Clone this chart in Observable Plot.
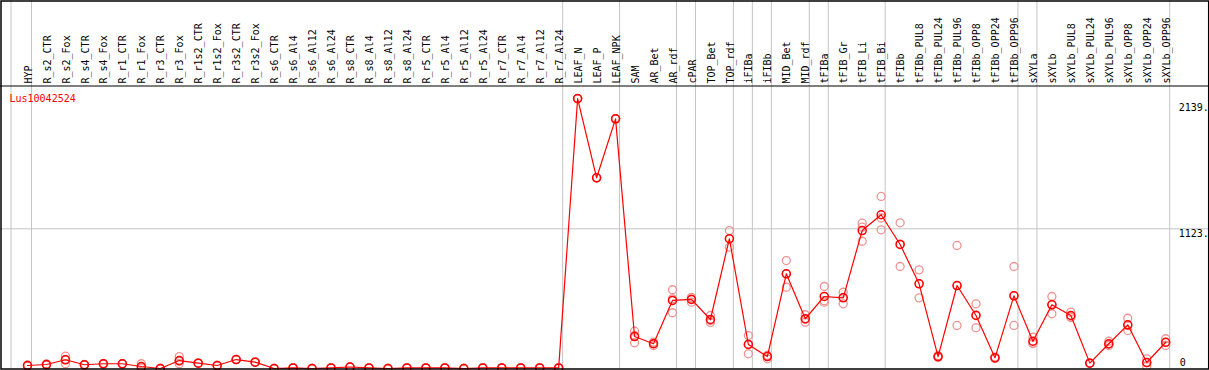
<!DOCTYPE html>
<html>
<head>
<meta charset="utf-8">
<script src="https://cdn.jsdelivr.net/npm/d3@7"></script>
<script src="https://cdn.jsdelivr.net/npm/@observablehq/plot@0.6"></script>
<style>
  html, body { margin: 0; padding: 0; background: #fff; }
  #chart svg { display: block; }
</style>
</head>
<body>
<div id="chart"></div>
<script>
const title = "Lus10042524";

const categories = [
  "HYP","R_s2_CTR","R_s2_Fox","R_s4_CTR","R_s4_Fox","R_r1_CTR","R_r1_Fox","R_r3_CTR","R_r3_Fox",
  "R_r1s2_CTR","R_r1s2_Fox","R_r3s2_CTR","R_r3s2_Fox","R_s6_CTR","R_s6_Al4","R_s6_Al12","R_s6_Al24",
  "R_s8_CTR","R_s8_Al4","R_s8_Al12","R_s8_Al24","R_r5_CTR","R_r5_Al4","R_r5_Al12","R_r5_Al24",
  "R_r7_CTR","R_r7_Al4","R_r7_Al12","R_r7_Al24","LEAF_N","LEAF_P","LEAF_NPK","SAM","AR_Bet","AR_rdf",
  "cPAR","TOP_Bet","TOP_rdf","iFIBa","iFIBb","MID_Bet","MID_rdf","tFIBa","tFIB_Gr","tFIB_Li","tFIB_Bi",
  "tFIBb","tFIBb_PUL8","tFIBb_PUL24","tFIBb_PUL96","tFIBb_OPP8","tFIBb_OPP24","tFIBb_OPP96",
  "sXYLa","sXYLb","sXYLb_PUL8","sXYLb_PUL24","sXYLb_PUL96","sXYLb_OPP8","sXYLb_OPP24","sXYLb_OPP96"
];

const means = [
  24, 32, 70, 30, 38, 38, 16, 0, 64,
  43, 24, 72, 51, 0, 5, 0, 5,
  12, 5, 0, 5, 5, 5, 0, 5,
  5, 5, 5, 5, 2170, 1533, 2007, 257, 199, 547,
  555, 394, 1043, 193, 96, 761, 400, 579, 568, 1109, 1236,
  997, 681, 96, 667, 426, 86, 584,
  219, 512, 426, 43, 199, 351, 48, 211
];

const rep1 = [
  20, 28, 99, 28, 36, 38, 38, 0, 96,
  43, 24, 72, 51, 0, 5, 0, 5,
  12, 5, 0, 5, 5, 5, 0, 5,
  5, 5, 5, 5, 2170, 1533, 2007, 300, 185, 633,
  560, 426, 1109, 265, 78, 868, 432, 659, 613, 1168, 1383,
  1171, 793, 88, 989, 520, 80, 820,
  252, 579, 453, 40, 219, 404, 78, 239
];

const rep2 = [
  28, 36, 38, 32, 40, 38, 5, 0, 38,
  43, 24, 72, 51, 0, 5, 0, 5,
  12, 5, 0, 5, 5, 5, 0, 5,
  5, 5, 5, 5, 2170, 1533, 2007, 207, 211, 448,
  533, 370, 975, 118, 105, 654, 372, 533, 520, 1023, 1115,
  820, 568, 105, 346, 327, 92, 346,
  201, 440, 410, 46, 185, 305, 18, 185
];

const rep3 = [
  24, 32, 73, 30, 38, 38, 5, 0, 58,
  43, 24, 72, 51, 0, 5, 0, 5,
  12, 5, 0, 5, 5, 5, 0, 5,
  5, 5, 5, 5, 2170, 1533, 2007, 264, 201, 560,
  572, 386, 1045, 196, 105, 761, 396, 545, 571, 1136, 1210,
  1000, 682, 95, 666, 431, 86, 586,
  204, 517, 415, 43, 193, 344, 48, 209
];

const yTickValues = [0, 1123, 2139];
const yTickLabels = ["0", "1123.", "2139."];

// group separators are drawn just after these columns
const groupEnds = ["HYP","R_r7_Al24","LEAF_NPK","AR_rdf","cPAR","TOP_rdf","iFIBa","iFIBb",
  "MID_rdf","tFIBa","tFIB_Bi","tFIBb_OPP96","sXYLa","sXYLb_OPP96"];

const meanData = categories.map((c, i) => ({cat: c, v: means[i]}));
const repData = [];
[rep1, rep2, rep3].forEach(r => categories.forEach((c, i) => repData.push({cat: c, v: r[i]})));
const tickData = yTickValues.map((v, i) => ({v, label: yTickLabels[i]}));

const FONT = "DejaVu Sans Mono";
const ML = 17.5, MR = 34.3, MT = 85.5, MB = 2;
const yTop = 2271;

const chart = Plot.plot({
  width: 1209,
  height: 370,
  marginLeft: ML,
  marginRight: MR,
  marginTop: MT,
  marginBottom: MB,
  style: {fontFamily: FONT, fontSize: "10px", background: "#fff", overflow: "hidden"},
  x: {type: "point", domain: categories, padding: 0.5, axis: null},
  y: {domain: [0, yTop], axis: null},
  marks: [
    // horizontal gridline
    Plot.ruleY([1123], {stroke: "#c4c4c4", strokeWidth: 1, insetLeft: -ML, insetRight: -MR}),
    // vertical group separators
    Plot.ruleX([categories[0]], {stroke: "#c4c4c4", strokeWidth: 1, dx: -16.5, insetTop: -MT}),
    Plot.ruleX(groupEnds, {stroke: "#c4c4c4", strokeWidth: 1, dx: 4, insetTop: -MT}),
    // header separator
    Plot.ruleY([yTop], {stroke: "#000", strokeWidth: 1.2, insetLeft: -ML, insetRight: -MR}),
    // column labels
    Plot.text(categories, {x: d => d, frameAnchor: "top", rotate: -90, textAnchor: "start",
      dy: -2.5, dx: -3, fill: "#000", fontSize: 10, fontFamily: FONT}),
    // replicates
    Plot.dot(repData, {x: "cat", y: "v", r: 4, stroke: "#f09292", strokeWidth: 1.3, fill: "none"}),
    // mean line
    Plot.line(meanData, {x: "cat", y: "v", stroke: "#ff0000", strokeWidth: 1.2}),
    Plot.dot(meanData, {x: "cat", y: "v", r: 4, stroke: "#ff0000", strokeWidth: 1.5, fill: "none"}),
    // title
    Plot.text([title], {frameAnchor: "top-left", dx: -8.5, dy: 9, textAnchor: "start",
      fill: "#ff0000", fontSize: 10, fontFamily: FONT}),
    // y labels
    Plot.text(tickData.filter(d => d.v > 0), {y: "v", text: "label", frameAnchor: "right", dx: 3.5,
      textAnchor: "start", lineAnchor: "top", dy: 1, fill: "#000", fontSize: 10, fontFamily: FONT}),
    Plot.text(tickData.filter(d => d.v === 0), {y: "v", text: "label", frameAnchor: "right", dx: 4.5,
      textAnchor: "start", lineAnchor: "bottom", dy: -3, fill: "#000", fontSize: 10, fontFamily: FONT}),
    // outer frame
    Plot.frame({stroke: "#000", strokeWidth: 1.5, insetTop: -MT + 0.5, insetLeft: -ML + 0.5,
      insetRight: -MR + 0.8, insetBottom: -0.5})
  ]
});

document.getElementById("chart").appendChild(chart);
</script>
</body>
</html>
